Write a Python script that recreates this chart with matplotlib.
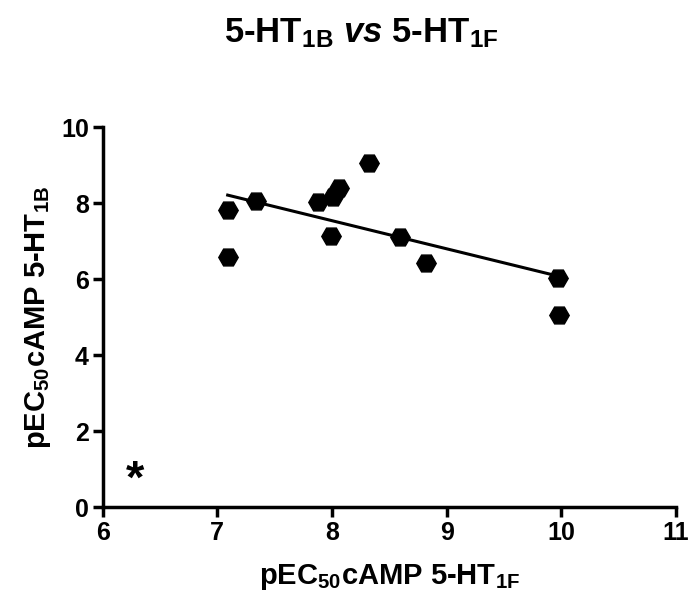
import numpy as np
import matplotlib
matplotlib.use("Agg")
import matplotlib.pyplot as plt

# pEC50 values
ht1f = [7.09, 7.09, 7.34, 7.88, 8.01, 8.06, 8.32, 7.99, 8.59, 8.82, 9.97, 9.98]
ht1b = [7.82, 6.58, 8.05, 8.03, 8.16, 8.39, 9.05, 7.13, 7.11, 6.42, 6.03, 5.05]

# regression line as drawn (slope, intercept) and its x extent
fit_slope = -0.74
fit_intercept = 13.46
fit_range = [7.09, 9.97]

xticks = [6, 7, 8, 9, 10, 11]
yticks = [0, 2, 4, 6, 8, 10]

plt.rcParams['font.family'] = ['Liberation Sans', 'DejaVu Sans']
plt.rcParams['font.weight'] = 'bold'
plt.rcParams['mathtext.fontset'] = 'custom'
plt.rcParams['mathtext.rm'] = 'Liberation Sans:bold'
plt.rcParams['mathtext.it'] = 'Liberation Sans:bold:italic'
plt.rcParams['mathtext.bf'] = 'Liberation Sans:bold'
plt.rcParams['mathtext.default'] = 'rm'

fig = plt.figure(figsize=(6.94, 6.03), dpi=100)
ax = fig.add_axes([0.148, 0.159, 0.826, 0.63])

ax.plot(ht1f, ht1b, linestyle='none', marker='H', markersize=14,
        color='black', zorder=3)

xs = np.array(fit_range)
ax.plot(xs, fit_slope * xs + fit_intercept, color='black', lw=2.2, zorder=2)

ax.text(6.28, 0.7, '*', fontsize=34, fontweight='bold', ha='center', va='center')

ax.set_xlim(6, 11)
ax.set_ylim(0, 10)
ax.set_xticks(xticks)
ax.set_yticks(yticks)

for side in ['top', 'right']:
    ax.spines[side].set_visible(False)
for side in ['left', 'bottom']:
    ax.spines[side].set_linewidth(2.5)
ax.tick_params(width=2.5, length=7, labelsize=18, direction='out', pad=3)
for lab in ax.get_xticklabels() + ax.get_yticklabels():
    lab.set_fontweight('bold')

ax.set_xlabel('pEC$_{50}$cAMP 5-HT$_{1F}$', fontsize=21, fontweight='bold', labelpad=12)
ax.set_ylabel('pEC$_{50}$cAMP 5-HT$_{1B}$', fontsize=21, fontweight='bold', labelpad=6)

fig.text(0.52, 0.945, '5-HT$_{1B}$ $\\mathit{vs}$ 5-HT$_{1F}$', fontsize=25,
         fontweight='bold', ha='center', va='center')

fig.savefig('out.png', dpi=100)
